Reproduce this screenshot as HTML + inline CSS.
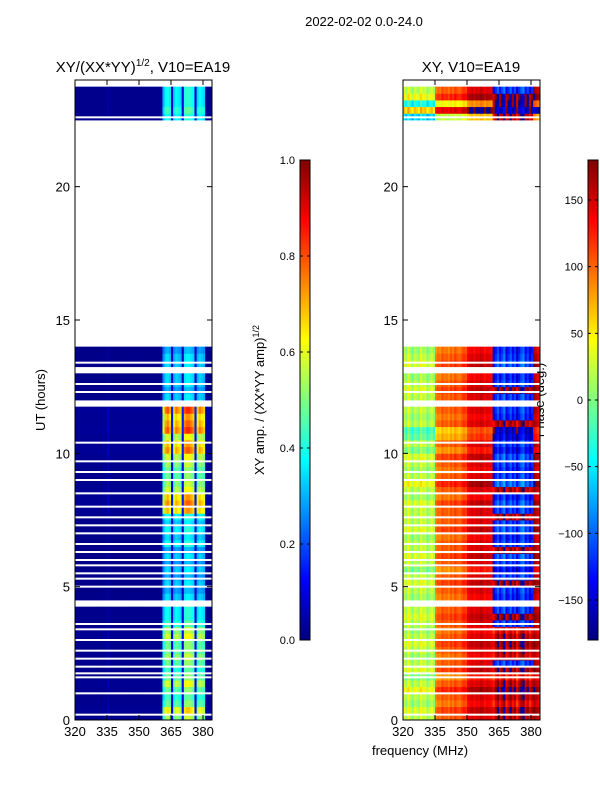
<!DOCTYPE html>
<html><head><meta charset="utf-8">
<style>
html,body{margin:0;padding:0;background:#fff;}
svg{display:block;font-family:"Liberation Sans",sans-serif;}
</style></head>
<body>
<svg id="fig" width="600" height="800" viewBox="0 0 600 800">
<defs>
<linearGradient id="jet" x1="0" y1="1" x2="0" y2="0">
<stop offset="0" stop-color="#00007f"/><stop offset="0.125" stop-color="#0000ff"/>
<stop offset="0.375" stop-color="#00ffff"/><stop offset="0.625" stop-color="#ffff00"/>
<stop offset="0.875" stop-color="#ff0000"/><stop offset="1" stop-color="#7f0000"/>
</linearGradient>
</defs>
<text x="364" y="26" font-size="13" text-anchor="middle">2022-02-02 0.0-24.0</text>
<text x="143" y="72" font-size="15" text-anchor="middle">XY/(XX*YY)<tspan font-size="10" dy="-6">1/2</tspan><tspan dy="6">, V10=EA19</tspan></text>
<text x="471" y="72" font-size="15" text-anchor="middle">XY, V10=EA19</text>
<text transform="translate(45,400) rotate(-90)" font-size="13" text-anchor="middle">UT (hours)</text>
<text transform="translate(264,400) rotate(-90)" font-size="13" text-anchor="middle">XY amp. / (XX*YY amp)<tspan font-size="9" dy="-5">1/2</tspan></text>
<text transform="translate(544,400) rotate(-90)" font-size="13" text-anchor="middle">Phase (deg.)</text>
<text x="420" y="755" font-size="13" text-anchor="middle">frequency (MHz)</text>
<g id="left"></g>
<g id="right"></g>
<g id="axes"></g>
</svg>
<script>
const freqStart = 320, freqStep = 1, nFreq = 64;
const rowHours = 0.25;
const rowAmp = [0.55,0.65,0.5,0.45,0.5,0.6,0.5,0.45,0.5,0.55,0.5,0.5,0.6,0.55,
0.45,0.4,0.4,null,0.35,0.3,0.35,0.3,0.35,0.3,0.35,0.3,
0.4,0.35,0.4,0.35,0.4,0.7,0.75,0.7,0.6,0.55,0.5,0.5,0.55,0.6,
0.75,0.7,0.6,0.8,0.75,0.7,0.8,null,0.35,0.3,0.35,0.35,null,0.35,0.35,0.3,
null,null,null,null,null,null,null,null,null,null,null,null,null,null,null,null,
null,null,null,null,null,null,null,null,null,null,null,null,null,null,null,null,
null,null,0.4,0.45,0.4,0.4,0.4,null];
const freqAmp = [0.03,0.03,0.03,0.03,0.03,0.03,0.03,0.03,0.03,0.03,0.03,0.03,0.03,0.03,0.03,0.08,
0.03,0.03,0.03,0.03,0.03,0.03,0.03,0.03,0.03,0.03,0.03,0.03,0.03,0.03,0.03,0.03,
0.03,0.03,0.03,0.03,0.03,0.03,0.03,0.03,0.05,0.75,0.95,1.0,0.9,0.2,0.85,0.95,
0.9,0.85,0.2,1,1.05,1.05,1,0.95,0.2,0.85,0.95,0.9,0.85,0.04,0.04,0.04];
const phaseCol = [30,10,40,20,0,30,20,10,40,20,30,0,20,30,10,
90,100,95,110,100,105,95,110,100,115,105,100,110,120,115,
140,145,150,140,150,145,155,150,140,150,145,140,
-150,-120,-100,-130,-110,-90,-140,-120,-100,-130,-110,-150,-120,-100,-90,-130,-110,-140,-120,
170,160,150];
const phaseRow = [0,10,-10,0,20,0,-20,10,0,-10,0,10,0,-10,
0,10,0,0,-10,0,10,0,-20,0,10,0,
0,-10,10,0,0,0,10,-10,0,20,0,-10,0,10,
-20,0,-30,-40,0,-10,0,0,0,10,0,-10,0,10,0,-10,
0,0,0,0,0,0,0,0,0,0,0,0,0,0,0,0,
0,0,0,0,0,0,0,0,0,0,0,0,0,0,0,0,
0,0,-80,40,-60,20,0,0];
const phaseHiShift = [280,280,270,280,280,280,270,280,0,280,280,280,280,270,
0,280,0,0,0,0,280,0,0,0,0,280,
0,0,0,0,280,0,0,0,280,0,0,0,0,0,
0,0,0,0,280,0,0,0,0,280,0,0,0,0,0,0,
0,0,0,0,0,0,0,0,0,0,0,0,0,0,0,0,
0,0,0,0,0,0,0,0,0,0,0,0,0,0,0,0,
0,0,0,280,0,280,0,0];
const gapHours = [0.2,1.0,1.6,1.75,2.0,2.3,2.6,3.0,3.4,3.6,5.0,5.3,5.5,5.8,6.0,6.3,6.6,7.0,7.3,7.6,8.0,8.5,9.0,9.3,9.7,10.4,12.3,12.6,13.4,22.6];
const ampTicks = [0,0.2,0.4,0.6,0.8,1.0];
const phaseTicks = [-150,-100,-50,0,50,100,150];
const xTicks = [320,335,350,365,380];
const yTicks = [0,5,10,15,20];

const NS="http://www.w3.org/2000/svg";
const panels=[{x0:75,g:'left'},{x0:403,g:'right'}];
const PW=137, Y0=720, Y1=80;
function xs(p,f){return p.x0+(f-320)*(128/60);}
function ys(h){return Y0-h*(Y0-Y1)/24;}
function jet(v){v=Math.max(0,Math.min(1,v));
 function c(x){return Math.max(0,Math.min(1,1.5-Math.abs(4*v-x)));}
 return 'rgb('+Math.round(255*c(3))+','+Math.round(255*c(2))+','+Math.round(255*c(1))+')';}
function wrap(d){while(d>180)d-=360;while(d<-180)d+=360;return d;}
function mk(tag,attrs,parent){const e=document.createElementNS(NS,tag);for(const k in attrs)e.setAttribute(k,attrs[k]);parent.appendChild(e);return e;}

const gL=document.getElementById('left'), gR=document.getElementById('right');
for(let r=0;r<rowAmp.length;r++){
 if(rowAmp[r]===null)continue;
 const yt=ys((r+1)*rowHours), yb=ys(r*rowHours);
 for(let c=0;c<nFreq;c++){
  const f0=freqStart+c*freqStep, f1=f0+freqStep;
  const xa=xs(panels[0],f0), xb=Math.min(xs(panels[0],f1),75+PW);
  if(xa>=75+PW)continue;
  const a=mk('rect',{x:xa,y:yt,width:xb-xa+0.4,height:yb-yt+0.4,fill:jet(rowAmp[r]*freqAmp[c])},gL);
  
  
  let ph=phaseCol[c]+phaseRow[r]+(c>=42&&c<=60?phaseHiShift[r]:0);
  ph=wrap(ph);
  const xa2=xs(panels[1],f0), xb2=Math.min(xs(panels[1],f1),403+PW);
  const b=mk('rect',{x:xa2,y:yt,width:xb2-xa2+0.4,height:yb-yt+0.4,fill:jet((ph+180)/360)},gR);
  
  
 }
}
const ax=document.getElementById('axes');
for(const p of panels){
 for(const h of gapHours){
  const l=mk('rect',{x:p.x0,y:ys(h)-1,width:PW,height:2,fill:'#fff'},ax);
  
  
 }
 const fr=mk('rect',{x:p.x0,y:Y1,width:PW,height:Y0-Y1,fill:'none',stroke:'#000','stroke-width':1},ax);
 
 
 for(const t of xTicks){
  const x=xs(p,t);
  mk('line',{x1:x,y1:Y0,x2:x,y2:Y0-5,stroke:'#000'},ax);
  mk('line',{x1:x,y1:Y1,x2:x,y2:Y1+5,stroke:'#000'},ax);
  const tx=mk('text',{x:x,y:Y0+16,'font-size':13,'text-anchor':'middle'},ax);tx.textContent=t;
  
  
 }
 for(const t of yTicks){
  const y=ys(t);
  mk('line',{x1:p.x0,y1:y,x2:p.x0+5,y2:y,stroke:'#000'},ax);
  mk('line',{x1:p.x0+PW,y1:y,x2:p.x0+PW-5,y2:y,stroke:'#000'},ax);
  const tx=mk('text',{x:p.x0-5,y:y+5,'font-size':13,'text-anchor':'end'},ax);tx.textContent=t;
  
  
 }
}
const cbs=[{x:300,ticks:ampTicks,lo:0,hi:1,fmt:v=>v.toFixed(1),name:'amp-colorbar'},
           {x:588,ticks:phaseTicks,lo:-180,hi:180,fmt:v=>String(v).replace('-','\u2212'),name:'phase-colorbar'}];
for(const cb of cbs){
 const r=mk('rect',{x:cb.x,y:160,width:10,height:480,fill:'url(#jet)',stroke:'#000','stroke-width':1},ax);
 
 
 for(const t of cb.ticks){
  const y=640-(t-cb.lo)/(cb.hi-cb.lo)*480;
  mk('line',{x1:cb.x,y1:y,x2:cb.x+3,y2:y,stroke:'#000'},ax);
  mk('line',{x1:cb.x+10,y1:y,x2:cb.x+7,y2:y,stroke:'#000'},ax);
  const tx=mk('text',{x:cb.x-5,y:y+4,'font-size':11,'text-anchor':'end'},ax);tx.textContent=cb.fmt(t);
  
  
 }
}
</script>
</body></html>
